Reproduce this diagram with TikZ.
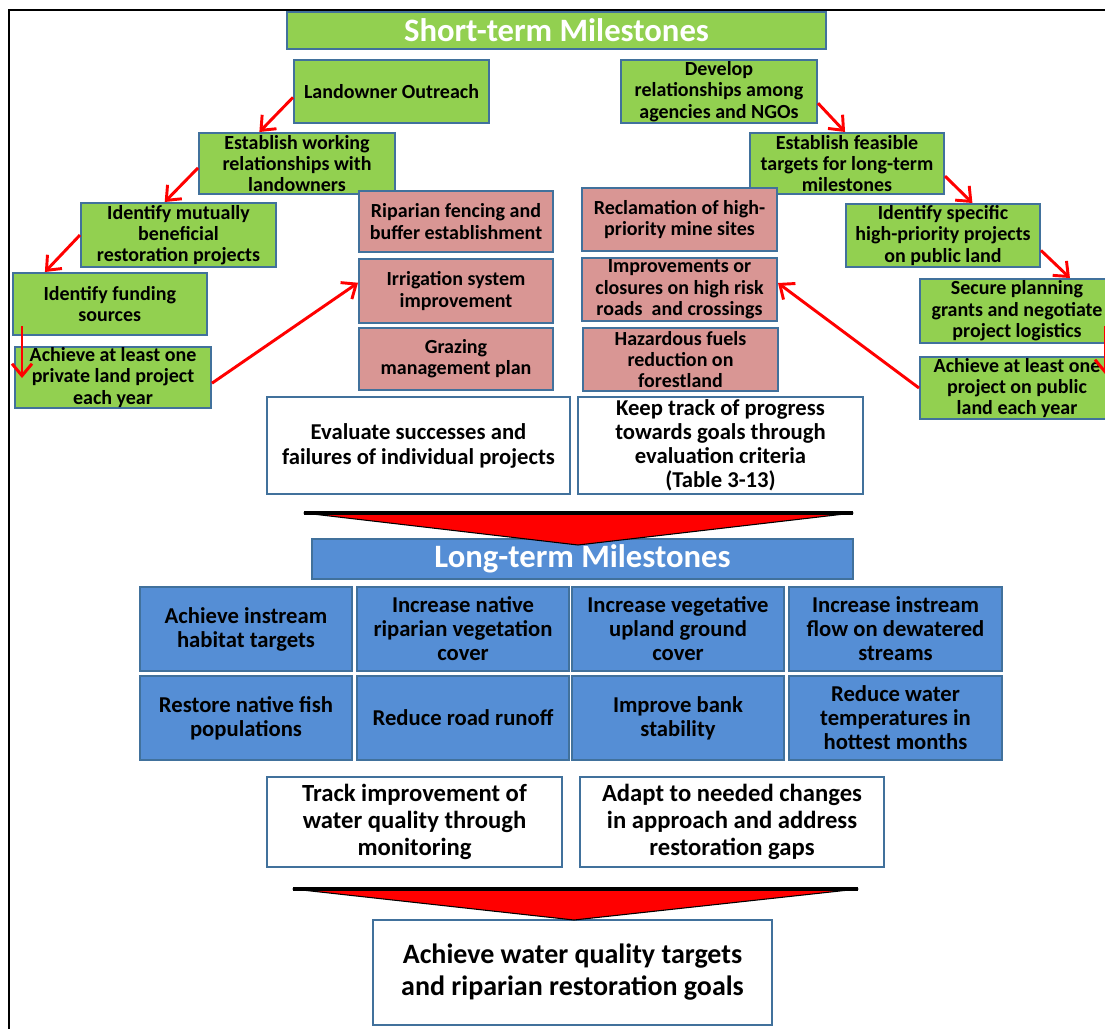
\documentclass[tikz,border=0pt]{standalone}
\usepackage{fontspec}
\setmainfont{Carlito}
\usetikzlibrary{arrows.meta,calc}
\definecolor{grn}{HTML}{92D050}
\definecolor{pnk}{HTML}{D99694}
\definecolor{blu}{HTML}{558ED5}
\definecolor{bordc}{HTML}{41719C}
\tikzset{
  base/.style={draw=bordc, line width=1.5pt, inner sep=0pt, align=center,
    font=\bfseries\fontsize{15}{16}\selectfont, text=black},
  gbox/.style={base, fill=grn},
  pbox/.style={base, fill=pnk},
  bbox/.style={base, fill=blu, font=\bfseries\fontsize{17}{18}\selectfont},
  wbox/.style={base, fill=white, font=\bfseries\fontsize{17}{18.75}\selectfont},
  wbig/.style={base, fill=white, font=\bfseries\fontsize{18.5}{20}\selectfont},
  wfin/.style={base, fill=white, font=\bfseries\fontsize{21}{24}\selectfont},
  ttl/.style={base, text=white, font=\bfseries\fontsize{24.5}{26}\selectfont},
  arr/.style={draw=red, line width=2.2pt, -{Straight Barb[length=9pt,width=15pt]}},
  bigtri/.style={fill=red, draw=black, line width=0.8pt, line join=round},
}
% box: style, name, x1, y1, x2, y2, text  (pixel units)
\newcommand\bx[7]{\node[#1, minimum width={(#5-#3)*0.75pt}, minimum height={(#6-#4)*0.75pt}]
  (#2) at ({(#3+#5)/2},{(#4+#6)/2}) {#7};}
\begin{document}
\begin{tikzpicture}[x=0.75pt,y=-0.75pt]
\useasboundingbox (0,0) rectangle (1105,1028);
\clip (0,0) rectangle (1105,1028);
% frame
\draw[line width=1.6pt] (9,1030) -- (9,10) -- (1110,10);
% titles
\bx{ttl, fill=grn}{st}{287}{12}{826}{49}{Short-term Milestones}
% left chain
\bx{gbox}{b1}{294}{60}{489}{123}{Landowner Outreach}
\bx{gbox}{b2}{199}{133}{395}{194}{Establish working\\relationships with\\landowners}
\bx{gbox}{b3}{81}{203}{276}{267}{Identify mutually\\beneficial\\restoration projects}
\bx{gbox}{b4}{12.5}{273}{207}{335}{Identify funding\\sources}
\bx{gbox}{b5}{15}{347}{211}{408}{Achieve at least one\\private land project\\each year}
% left pink
\bx{pbox}{p1}{359}{191}{553}{252}{Riparian fencing and\\buffer establishment}
\bx{pbox}{p2}{359}{259}{553}{323}{Irrigation system\\improvement}
\bx{pbox}{p3}{359}{328}{553}{390}{Grazing\\management plan}
% right chain
\bx{gbox}{r1}{621}{60}{817}{123}{Develop\\relationships among\\agencies and NGOs}
\bx{gbox}{r2}{750}{133}{944}{194}{Establish feasible\\targets for long-term\\milestones}
\bx{gbox}{r3}{846}{204}{1040}{267}{Identify specific\\high-priority projects\\on public land}
\bx{gbox}{r4}{920}{279}{1114}{343}{Secure planning\\grants and negotiate\\project logistics}
\bx{gbox}{r5}{920}{357}{1114}{419}{Achieve at least one\\project on public\\land each year}
% right pink
\bx{pbox}{q1}{582}{188}{777}{251}{Reclamation of high-\\priority mine sites}
\bx{pbox}{q2}{582}{258}{777}{321}{Improvements or\\closures on high risk\\roads~ and crossings}
\bx{pbox}{q3}{583}{328}{778}{391}{Hazardous fuels\\reduction on\\forestland}
% white evaluation boxes
\bx{wbox}{w1}{267}{397}{570}{494}{Evaluate successes and\\failures of individual projects}
\bx{wbox, font=\bfseries\fontsize{17}{18}\selectfont}{w2}{578}{397}{863}{494}{Keep track of progress\\towards goals through\\evaluation criteria\\(Table 3-13)}
% long-term title
\bx{ttl, fill=blu}{lt}{312}{539}{853}{579}{Long-term Milestones}
% blue grid
\bx{bbox}{g1}{140}{587}{352}{671}{Achieve instream\\habitat targets}
\bx{bbox}{g2}{357}{587}{569}{671}{Increase native\\riparian vegetation\\cover}
\bx{bbox}{g3}{572}{587}{784}{671}{Increase vegetative\\upland ground\\cover}
\bx{bbox}{g4}{789}{587}{1002}{671}{Increase instream\\flow on dewatered\\streams}
\bx{bbox}{g5}{140}{676}{352}{760}{Restore native fish\\populations}
\bx{bbox}{g6}{357}{676}{569}{760}{Reduce road runoff}
\bx{bbox}{g7}{572}{676}{784}{760}{Improve bank\\stability}
\bx{bbox}{g8}{789}{676}{1002}{760}{Reduce water\\temperatures in\\hottest months}
% bottom white boxes
\bx{wbig}{w3}{267}{777}{562}{867}{Track improvement of\\water quality through\\monitoring}
\bx{wbig}{w4}{580}{777}{884}{867}{Adapt to needed changes\\in approach and address\\restoration gaps}
\bx{wfin}{fin}{373}{920}{772}{1025}{Achieve water quality targets\\and riparian restoration goals}
% big triangles
\draw[bigtri] (304,513) -- (853,513) -- (578,545) -- cycle;
\draw[line width=2.4pt] (304,513) -- (853,513);
\draw[bigtri] (293,889) -- (858,889) -- (574,920) -- cycle;
\draw[line width=2.4pt] (293,889) -- (858,889);
% arrows left
\draw[arr] ($(b1.north west)!0.59!(b1.south west)$) -- ($(b2.north west)!0.31!(b2.north east)$);
\draw[arr] ($(b2.north west)!0.57!(b2.south west)$) -- ($(b3.north west)!0.43!(b3.north east)$);
\draw[arr] (b3.west) -- ($(b4.north west)!0.17!(b4.north east)$);
\draw[arr] ($(b4.south west)+(10.5,-10)$) -- ($(b5.north west)+(8,32)$);
\draw[arr] ($(b5.north east)!0.59!(b5.south east)$) -- ($(p2.north west)!0.375!(p2.south west)$);
% arrows right
\draw[arr] ($(r1.north east)!0.68!(r1.south east)$) -- ($(r2.north west)!0.49!(r2.north east)$);
\draw[arr] ($(r2.north east)!0.7!(r2.south east)$) -- ($(r3.north west)!0.65!(r3.north east)$);
\draw[arr] ($(r3.north east)!0.73!(r3.south east)$) -- ($(r4.north west)!0.77!(r4.north east)$);
\draw[arr] ($(r4.south east)+(-10,-18)$) -- ($(r5.north east)+(-10,18)$);
\draw[arr] (r5.west) -- ($(q2.north east)!0.4!(q2.south east)$);
\end{tikzpicture}
\end{document}
